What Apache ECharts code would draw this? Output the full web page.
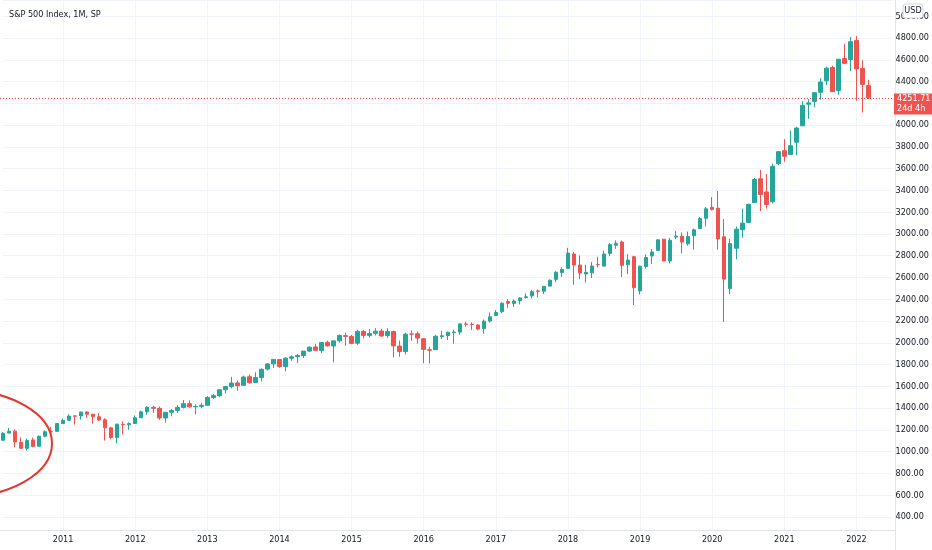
<!DOCTYPE html>
<html>
<head>
<meta charset="utf-8">
<title>S&amp;P 500 Index, 1M</title>
<script src="https://cdn.jsdelivr.net/npm/echarts@6/dist/echarts.min.js"></script>
<style>
  html, body { margin: 0; padding: 0; background: #fff; }
  #chart { width: 932px; height: 550px; }
</style>
</head>
<body>
<div id="chart"></div>
<script>
// monthly candles, Mar 2010 .. Mar 2022 (S&P 500)
const firstYear = 2010, firstMonth = 3;
const opens = [
  1105, 1171, 1189, 1087, 1031, 1108, 1050, 1143, 1186, 1187,
  1258, 1289, 1329, 1329, 1365, 1345, 1321, 1293, 1219, 1131, 1251, 1247,
  1259, 1312, 1366, 1408, 1398, 1310, 1362, 1379, 1407, 1441, 1412, 1416,
  1426, 1498, 1515, 1569, 1598, 1632, 1610, 1689, 1636, 1681, 1759, 1807,
  1846, 1783, 1858, 1874, 1884, 1924, 1962, 1930, 2004, 1971, 2018, 2066,
  2059, 1997, 2105, 2068, 2087, 2109, 2067, 2104, 1970, 1920, 2081, 2083,
  2038, 1937, 1937, 2057, 2067, 2094, 2099, 2173, 2171, 2164, 2129, 2200,
  2252, 2286, 2380, 2362, 2389, 2416, 2431, 2477, 2474, 2521, 2583, 2645,
  2684, 2816, 2715, 2633, 2643, 2719, 2705, 2821, 2897, 2926, 2718, 2791,
  2477, 2702, 2798, 2849, 2952, 2752, 2971, 2980, 2909, 2984, 3051, 3144,
  3245, 3236, 2974, 2498, 2869, 3039, 3106, 3288, 3507, 3386, 3296, 3646,
  3765, 3731, 3843, 3993, 4192, 4217, 4301, 4407, 4529, 4317, 4611, 4603,
  4778, 4520, 4363
];
const highs = [
  1181, 1220, 1205, 1131, 1121, 1129, 1149, 1196, 1227, 1263,
  1303, 1344, 1332, 1367, 1371, 1345, 1356, 1307, 1229, 1257, 1278, 1269,
  1333, 1378, 1419, 1422, 1415, 1363, 1392, 1427, 1475, 1471, 1434, 1448,
  1510, 1531, 1570, 1598, 1687, 1654, 1699, 1710, 1730, 1765, 1814, 1849,
  1851, 1868, 1884, 1897, 1924, 1968, 1991, 2005, 2019, 2018, 2076, 2094,
  2072, 2120, 2118, 2126, 2135, 2130, 2133, 2113, 2021, 2094, 2116, 2104,
  2038, 1963, 2072, 2111, 2103, 2121, 2177, 2194, 2188, 2170, 2214, 2278,
  2301, 2372, 2401, 2398, 2419, 2454, 2484, 2491, 2519, 2583, 2658, 2695,
  2873, 2836, 2802, 2717, 2742, 2791, 2848, 2917, 2941, 2940, 2815, 2800,
  2709, 2813, 2860, 2950, 2954, 2964, 3028, 3014, 3022, 3050, 3154, 3248,
  3338, 3394, 3137, 2955, 3069, 3233, 3280, 3515, 3588, 3550, 3646, 3760,
  3871, 3950, 3984, 4219, 4238, 4302, 4430, 4537, 4546, 4608, 4744, 4809,
  4819, 4595, 4417
];
const lows = [
  1105, 1171, 1041, 1028, 1011, 1040, 1048, 1132, 1173, 1187,
  1258, 1289, 1249, 1295, 1312, 1258, 1283, 1102, 1114, 1075, 1159, 1202,
  1259, 1312, 1340, 1357, 1292, 1267, 1325, 1355, 1397, 1403, 1343, 1398,
  1426, 1485, 1501, 1536, 1581, 1560, 1605, 1627, 1633, 1646, 1746, 1768,
  1770, 1738, 1834, 1814, 1860, 1916, 1931, 1905, 1964, 1821, 2001, 1973,
  1988, 1981, 2040, 2048, 2068, 2056, 2044, 1867, 1872, 1894, 2019, 1993,
  1812, 1810, 1937, 2034, 2026, 1992, 2074, 2148, 2119, 2115, 2084, 2187,
  2245, 2272, 2322, 2329, 2353, 2406, 2408, 2417, 2447, 2520, 2557, 2606,
  2682, 2533, 2586, 2554, 2595, 2692, 2699, 2796, 2864, 2604, 2631, 2347,
  2444, 2682, 2722, 2849, 2751, 2729, 2952, 2822, 2892, 2856, 3051, 3070,
  3215, 2856, 2192, 2447, 2767, 2966, 3101, 3285, 3209, 3234, 3280, 3633,
  3663, 3726, 3723, 3993, 4057, 4164, 4233, 4368, 4306, 4279, 4560, 4495,
  4223, 4115, 4240
];
const closes = [
  1169, 1187, 1089, 1031, 1102, 1049, 1141, 1183, 1181, 1258,
  1286, 1327, 1326, 1364, 1345, 1321, 1292, 1219, 1131, 1253, 1247, 1258,
  1312, 1366, 1408, 1398, 1310, 1362, 1379, 1407, 1441, 1412, 1416, 1426,
  1498, 1515, 1569, 1598, 1631, 1606, 1686, 1633, 1682, 1757, 1806, 1848,
  1783, 1859, 1872, 1884, 1924, 1960, 1931, 2003, 1972, 2018, 2068, 2059,
  1995, 2105, 2068, 2086, 2107, 2063, 2104, 1972, 1920, 2079, 2080, 2044,
  1940, 1932, 2060, 2065, 2097, 2099, 2174, 2171, 2168, 2126, 2199, 2239,
  2279, 2364, 2363, 2384, 2412, 2423, 2470, 2472, 2519, 2575, 2648, 2674,
  2824, 2714, 2641, 2648, 2705, 2718, 2816, 2902, 2914, 2712, 2760, 2507,
  2704, 2784, 2834, 2946, 2752, 2942, 2980, 2926, 2977, 3038, 3141, 3231,
  3226, 2954, 2585, 2912, 3044, 3100, 3271, 3500, 3363, 3270, 3622, 3756,
  3714, 3811, 3973, 4181, 4204, 4298, 4395, 4523, 4308, 4605, 4567, 4766,
  4516, 4374, 4251.71
];
// empty months on the right side of the chart
const padMonths = 4;
const lastPrice = 4251.71;
const lastPriceNote = '24d 4h';
const yMin = 200, yMax = 5149, yStep = 200;

const FONT = "'Liberation Sans Narrow', 'DejaVu Sans Condensed', 'Liberation Sans', sans-serif";
const UP = '#26a69a', DOWN = '#ef5350';

// category labels 'YYYY-MM'
let months = [];
for (let i = 0; i < closes.length + padMonths; i++) {
  let m = firstMonth - 1 + i;
  let y = firstYear + Math.floor(m / 12);
  months.push(y + '-' + String(m % 12 + 1).padStart(2, '0'));
}
// echarts candlestick wants [open, close, low, high]
let candles = closes.map((c, i) => [opens[i], c, lows[i], highs[i]]);

function isJanuary(index, value) {
  return value.slice(5) === '01';
}

let chart = echarts.init(document.getElementById('chart'));
chart.setOption({
  animation: false,
  backgroundColor: '#fff',
  textStyle: { fontFamily: FONT },
  title: {
    text: 'S&P 500 Index, 1M, SP',
    left: 4, top: 5,
    textStyle: { fontFamily: FONT, fontSize: 9, fontWeight: 'normal', color: '#131722' }
  },
  grid: { left: 3, right: 34, top: 0, bottom: 11.2 },
  xAxis: [{
    // year grid lines only
    type: 'category',
    data: months,
    boundaryGap: false,
    axisLine: { show: false },
    axisTick: { show: false },
    axisLabel: { show: false },
    splitLine: { show: true, interval: isJanuary, lineStyle: { color: '#f0f3fa', width: 1 } }
  }, {
    // year labels, moved up onto the time scale
    type: 'category',
    data: months,
    boundaryGap: false,
    position: 'bottom',
    offset: -9,
    z: 10,
    axisLine: { show: false },
    axisTick: { show: false },
    splitLine: { show: false },
    axisLabel: {
      interval: isJanuary,
      formatter: v => v.slice(0, 4),
      margin: 5,
      fontFamily: FONT, fontSize: 9, color: '#131722'
    }
  }],
  yAxis: {
    type: 'value',
    position: 'right',
    min: yMin, max: yMax, interval: yStep,
    axisLine: { show: false },
    axisTick: { show: false },
    axisLabel: {
      margin: 3,
      fontFamily: FONT, fontSize: 9, color: '#131722',
      formatter: v => (v % yStep === 0 && v >= 400) ? v.toFixed(2) : ''
    },
    splitLine: { lineStyle: { color: '#f0f3fa', width: 1 } }
  },
  series: [{
    type: 'candlestick',
    xAxisIndex: 0,
    data: candles,
    barWidth: 4,
    itemStyle: {
      color: UP, color0: DOWN,
      borderColor: UP, borderColor0: DOWN,
      borderWidth: 1
    }
  }]
});

// last price line and tag, placed from the price axis
let py = Math.round(chart.convertToPixel({ yAxisIndex: 0 }, lastPrice)) + 0.5;

chart.setOption({
  graphic: [
    // hide grid lines under the time scale
    { id: 'mask', type: 'rect', z: 5, shape: { x: 0, y: 530.5, width: 895, height: 20 }, style: { fill: '#fff' } },
    { id: 'hsep', type: 'line', z: 6, shape: { x1: 0, y1: 530.5, x2: 895, y2: 530.5 }, style: { stroke: '#e0e3eb', lineWidth: 1 } },
    { id: 'vsep', type: 'line', z: 6, shape: { x1: 895.5, y1: 0, x2: 895.5, y2: 550 }, style: { stroke: '#e0e3eb', lineWidth: 1 } },
    // dotted last price line
    { id: 'pline', type: 'line', z: 3, shape: { x1: 0, y1: py, x2: 895, y2: py }, style: { stroke: '#f23645', lineWidth: 1, lineDash: [1, 2] } },
    // hand drawn ring around 2010
    { id: 'ring', type: 'ellipse', z: 7, shape: { cx: -40, cy: 443.5, rx: 92, ry: 53.5 }, style: { fill: 'none', stroke: '#e2372b', lineWidth: 2 } },
    // currency badge
    { id: 'usdbox', type: 'rect', z: 7, shape: { x: 903, y: 4, width: 20, height: 14, r: 3 }, style: { fill: '#fff', stroke: '#d1d4dc', lineWidth: 1 } },
    { id: 'usd', type: 'text', z: 8, x: 913, y: 11, style: { text: 'USD', fontFamily: FONT, fontSize: 9, fill: '#131722', align: 'center', verticalAlign: 'middle' } },
    // price tag
    { id: 'tagbox', type: 'rect', z: 9, shape: { x: 894, y: py - 5, width: 38, height: 21 }, style: { fill: DOWN } },
    { id: 'tagprice', type: 'text', z: 10, x: 897, y: py, style: { text: lastPrice.toFixed(2), fontFamily: FONT, fontSize: 9, fill: '#fff', verticalAlign: 'middle' } },
    { id: 'tagnote', type: 'text', z: 10, x: 897, y: py + 10.5, style: { text: lastPriceNote, fontFamily: FONT, fontSize: 9, fill: '#fff', verticalAlign: 'middle' } }
  ]
});
</script>
</body>
</html>
